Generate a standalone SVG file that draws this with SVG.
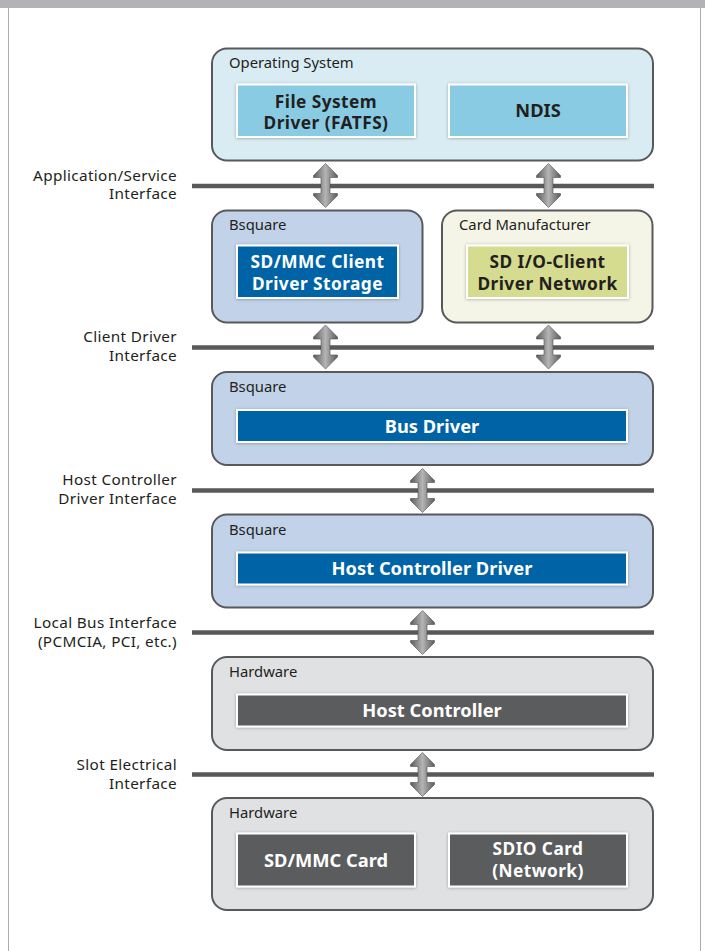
<svg xmlns="http://www.w3.org/2000/svg" xmlns:xlink="http://www.w3.org/1999/xlink" width="705" height="951" viewBox="0 0 705 951">
  <defs>
    <style>
      text { font-family: "Noto Sans", "Open Sans", "DejaVu Sans", sans-serif; fill: #231f20; }
      .hdr { font-size: 14.8px; }
      .lbl { font-size: 15.3px; letter-spacing: 0.35px; text-anchor: end; }
      .in { font-size: 18.3px; font-weight: bold; text-anchor: middle; }
      .in2 { font-size: 17.3px; letter-spacing: 0.45px; }
      .w { fill: #ffffff; }
      .outer { stroke: #58595b; stroke-width: 2; }
      .inner { stroke: #ffffff; stroke-width: 2; filter: url(#sh); }
      .os { fill: #d9ecf4; }
      .bsq { fill: #c2d3e9; }
      .card { fill: #f4f5e6; }
      .hw { fill: #e0e1e3; }
      .lblue { fill: #89cbe3; }
      .dblue { fill: #0063a5; }
      .olive { fill: #d5db8f; }
      .dgray { fill: #5a5b5d; }
      .bus { stroke: #58595b; stroke-width: 4.5; }
      .arr { fill: url(#ag); stroke: #4f4f4f; stroke-width: 0.6; }
    </style>
    <filter id="sh" x="-10%" y="-20%" width="120%" height="140%">
      <feDropShadow dx="0" dy="0.5" stdDeviation="1.5" flood-color="#000" flood-opacity="0.3"/>
    </filter>
    <linearGradient id="ag" x1="0" y1="0" x2="1" y2="0">
      <stop offset="0" stop-color="#5c5c5c"/>
      <stop offset="0.5" stop-color="#b4b4b4"/>
      <stop offset="1" stop-color="#5c5c5c"/>
    </linearGradient>
    <path id="arrow" class="arr" d="M0,-22 L12,-10 L12,-8 L4.5,-8 L4.5,8 L12,8 L12,10 L0,22 L-12,10 L-12,8 L-4.5,8 L-4.5,-8 L-12,-8 L-12,-10 Z"/>
  </defs>

  <rect width="705" height="951" fill="#ffffff"/>
  <g id="frame">
    <rect x="0" y="0" width="705" height="8" fill="#b2b2b7"/>
    <line x1="8.5" y1="8" x2="8.5" y2="951" stroke="#ababab" stroke-width="1"/>
    <line x1="700.5" y1="8" x2="700.5" y2="951" stroke="#ababab" stroke-width="1"/>
  </g>

  <g id="interface-labels">
    <text class="lbl" x="177" y="180.5">Application/Service</text>
    <text class="lbl" x="177" y="199">Interface</text>
    <text class="lbl" x="177" y="342">Client Driver</text>
    <text class="lbl" x="177" y="360.5">Interface</text>
    <text class="lbl" x="177" y="485">Host Controller</text>
    <text class="lbl" x="177" y="503.5">Driver Interface</text>
    <text class="lbl" x="177" y="628">Local Bus Interface</text>
    <text class="lbl" x="177" y="646.5">(PCMCIA, PCI, etc.)</text>
    <text class="lbl" x="177" y="770">Slot Electrical</text>
    <text class="lbl" x="177" y="788.5">Interface</text>
  </g>

  <g id="node-os">
    <rect class="outer os" x="212" y="48.5" width="441" height="112" rx="15"/>
    <text class="hdr" x="229" y="68.3">Operating System</text>
    <rect class="inner lblue" x="237" y="84.5" width="178" height="52.5"/>
    <text class="in in2" x="326" y="107.5">File System</text>
    <text class="in in2" x="326" y="129">Driver (FATFS)</text>
    <rect class="inner lblue" x="449" y="84.5" width="178" height="52.5"/>
    <text class="in" x="538" y="117.3">NDIS</text>
  </g>

  <g id="node-bsquare-client">
    <rect class="outer bsq" x="212" y="210.5" width="210.5" height="112" rx="15"/>
    <text class="hdr" x="229" y="229.5">Bsquare</text>
    <rect class="inner dblue" x="237" y="245.5" width="161" height="52.5"/>
    <text class="in in2 w" x="317.5" y="268.3">SD/MMC Client</text>
    <text class="in in2 w" x="317.5" y="289.8">Driver Storage</text>
  </g>

  <g id="node-card-manufacturer">
    <rect class="outer card" x="442" y="210.5" width="210.5" height="112" rx="15"/>
    <text class="hdr" x="459" y="229.5">Card Manufacturer</text>
    <rect class="inner olive" x="467" y="245.5" width="161" height="52.5"/>
    <text class="in in2" x="547.5" y="268.3">SD I/O-Client</text>
    <text class="in in2" x="547.5" y="289.8">Driver Network</text>
  </g>

  <g id="node-bus-driver">
    <rect class="outer bsq" x="212" y="372" width="441" height="93" rx="15"/>
    <text class="hdr" x="229" y="392">Bsquare</text>
    <rect class="inner dblue" x="237" y="410" width="390" height="32"/>
    <text class="in w" x="432" y="432.5">Bus Driver</text>
  </g>

  <g id="node-host-controller-driver">
    <rect class="outer bsq" x="212" y="514.5" width="441" height="93" rx="15"/>
    <text class="hdr" x="229" y="534.5">Bsquare</text>
    <rect class="inner dblue" x="237" y="552.5" width="390" height="32"/>
    <text class="in w" x="432" y="575">Host Controller Driver</text>
  </g>

  <g id="node-host-controller">
    <rect class="outer hw" x="212" y="657" width="441" height="93" rx="15"/>
    <text class="hdr" x="229" y="676.7">Hardware</text>
    <rect class="inner dgray" x="237" y="694.5" width="390" height="32"/>
    <text class="in w" x="432" y="717">Host Controller</text>
  </g>

  <g id="node-cards">
    <rect class="outer hw" x="212" y="798" width="441" height="112" rx="15"/>
    <text class="hdr" x="229" y="818">Hardware</text>
    <rect class="inner dgray" x="237" y="833.5" width="178" height="53"/>
    <text class="in w" x="326" y="866.5">SD/MMC Card</text>
    <rect class="inner dgray" x="449" y="833.5" width="178" height="53"/>
    <text class="in in2 w" x="538" y="855.3">SDIO Card</text>
    <text class="in in2 w" x="538" y="876.8">(Network)</text>
  </g>

  <g id="connectors">
    <line class="bus" x1="192" y1="186" x2="654" y2="186"/>
    <line class="bus" x1="192" y1="347.5" x2="654" y2="347.5"/>
    <line class="bus" x1="192" y1="490.5" x2="654" y2="490.5"/>
    <line class="bus" x1="192" y1="632.5" x2="654" y2="632.5"/>
    <line class="bus" x1="192" y1="774.5" x2="654" y2="774.5"/>
    <use xlink:href="#arrow" href="#arrow" transform="translate(325.5,185.5)"/>
    <use xlink:href="#arrow" href="#arrow" transform="translate(548.5,185.5)"/>
    <use xlink:href="#arrow" href="#arrow" transform="translate(325.5,347)"/>
    <use xlink:href="#arrow" href="#arrow" transform="translate(548.5,347)"/>
    <use xlink:href="#arrow" href="#arrow" transform="translate(422.5,490.5)"/>
    <use xlink:href="#arrow" href="#arrow" transform="translate(422.5,632.5)"/>
    <use xlink:href="#arrow" href="#arrow" transform="translate(422.5,774.5)"/>
  </g>
</svg>
